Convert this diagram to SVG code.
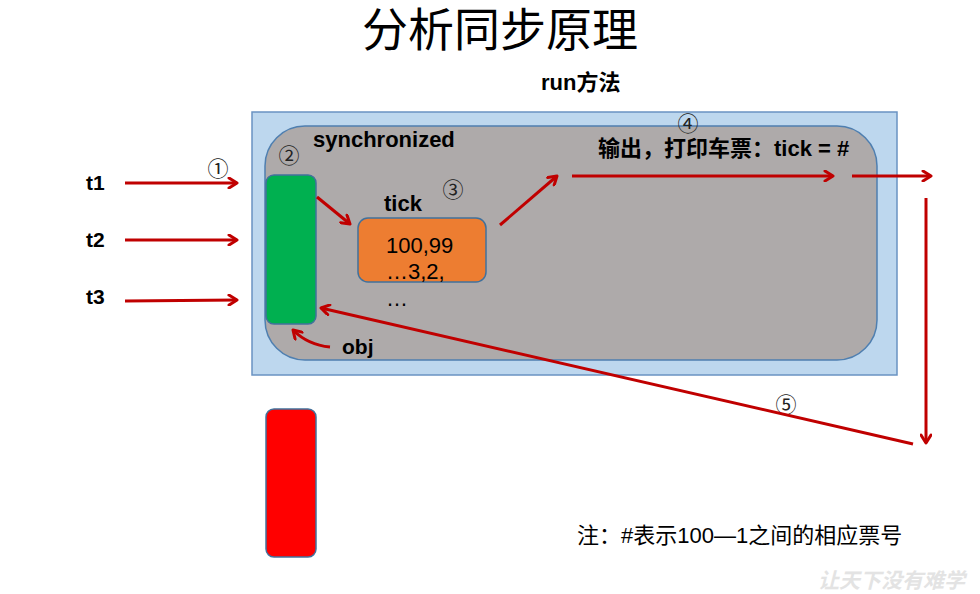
<svg xmlns="http://www.w3.org/2000/svg" width="980" height="594" viewBox="0 0 980 594">
<defs>
<marker id="ah" markerWidth="12" markerHeight="12" refX="10" refY="6" orient="auto" markerUnits="userSpaceOnUse">
<path d="M2,1 L10,6 L2,11" fill="none" stroke="#c00000" stroke-width="3" stroke-linecap="round" stroke-linejoin="round"/>
</marker>
<style>
.t{font-family:"Liberation Sans","Noto Sans CJK SC",sans-serif;fill:#000}
.b{font-weight:bold}
.c{stroke:#c00000;stroke-width:3;fill:none;marker-end:url(#ah)}
.num{font-family:"Noto Sans CJK SC",sans-serif;font-size:21px;fill:#222}
</style>
</defs>
<rect width="980" height="594" fill="#fff"/>
<text class="t" x="500" y="46" font-size="46" text-anchor="middle">分析同步原理</text>
<text class="t b" x="541" y="90" font-size="22">run方法</text>
<g id="outer">
<rect x="252" y="112" width="645" height="263" fill="#bdd7ee" stroke="#6a93c2" stroke-width="1.5"/>
</g>
<g id="sync">
<rect x="265" y="126" width="612" height="234" rx="40" fill="#aeaaaa" stroke="#4f7fb0" stroke-width="1.5"/>
<text class="t b" x="313" y="147" font-size="22">synchronized</text>
</g>
<g id="lock">
<rect x="266" y="175" width="50" height="149" rx="8" fill="#00b050" stroke="#41719c" stroke-width="1.5"/>
</g>
<g id="tick">
<text class="t b" x="384" y="211" font-size="22">tick</text>
<rect x="358" y="218" width="128" height="64" rx="10" fill="#ed7d31" stroke="#41719c" stroke-width="1.5"/>
<text class="t" x="386" y="253" font-size="22">100,99</text>
<text class="t" x="386" y="279" font-size="22">…3,2,</text>
<text class="t" x="386" y="306" font-size="22">…</text>
</g>
<g id="obj">
<text class="t b" x="342" y="354" font-size="21">obj</text>
</g>
<g id="threads">
<text class="t b" x="86" y="190" font-size="21">t1</text>
<text class="t b" x="86" y="247" font-size="21">t2</text>
<text class="t b" x="86" y="304" font-size="21">t3</text>
</g>
<g id="output">
<text class="t b" x="598" y="156" font-size="22">输出，打印车票：tick = #</text>
</g>
<g id="waiting">
<rect x="266" y="409" width="50" height="148" rx="8" fill="#ff0000" stroke="#41719c" stroke-width="1.5"/>
</g>
<g id="labels">
<text class="num" x="218" y="176" text-anchor="middle">①</text>
<text class="num" x="289" y="163" text-anchor="middle">②</text>
<text class="num" x="453" y="197" text-anchor="middle">③</text>
<text class="num" x="688" y="131" text-anchor="middle">④</text>
<text class="num" x="786" y="412" text-anchor="middle">⑤</text>
</g>
<g id="connectors">
<line class="c" x1="125" y1="183" x2="237" y2="183"/>
<line class="c" x1="125" y1="240" x2="237" y2="240"/>
<line class="c" x1="125" y1="301" x2="237" y2="300"/>
<line class="c" x1="317" y1="197" x2="350" y2="224"/>
<line class="c" x1="500" y1="225" x2="557" y2="176"/>
<line class="c" x1="572" y1="176" x2="833" y2="176"/>
<line class="c" x1="852" y1="176" x2="931" y2="176"/>
<line class="c" x1="926" y1="198" x2="926" y2="443"/>
<line class="c" x1="913" y1="444" x2="321" y2="308"/>
<path class="c" d="M330,347 Q308,345 293,330"/>
</g>
<text x="818" y="588" font-size="21" fill="#e3e3e3" font-family="'Noto Sans CJK SC',sans-serif" font-style="italic" font-weight="bold">让天下没有难学</text>
<text class="t" x="577" y="543" font-size="22" fill="#222">注：#表示100—1之间的相应票号</text>
</svg>
